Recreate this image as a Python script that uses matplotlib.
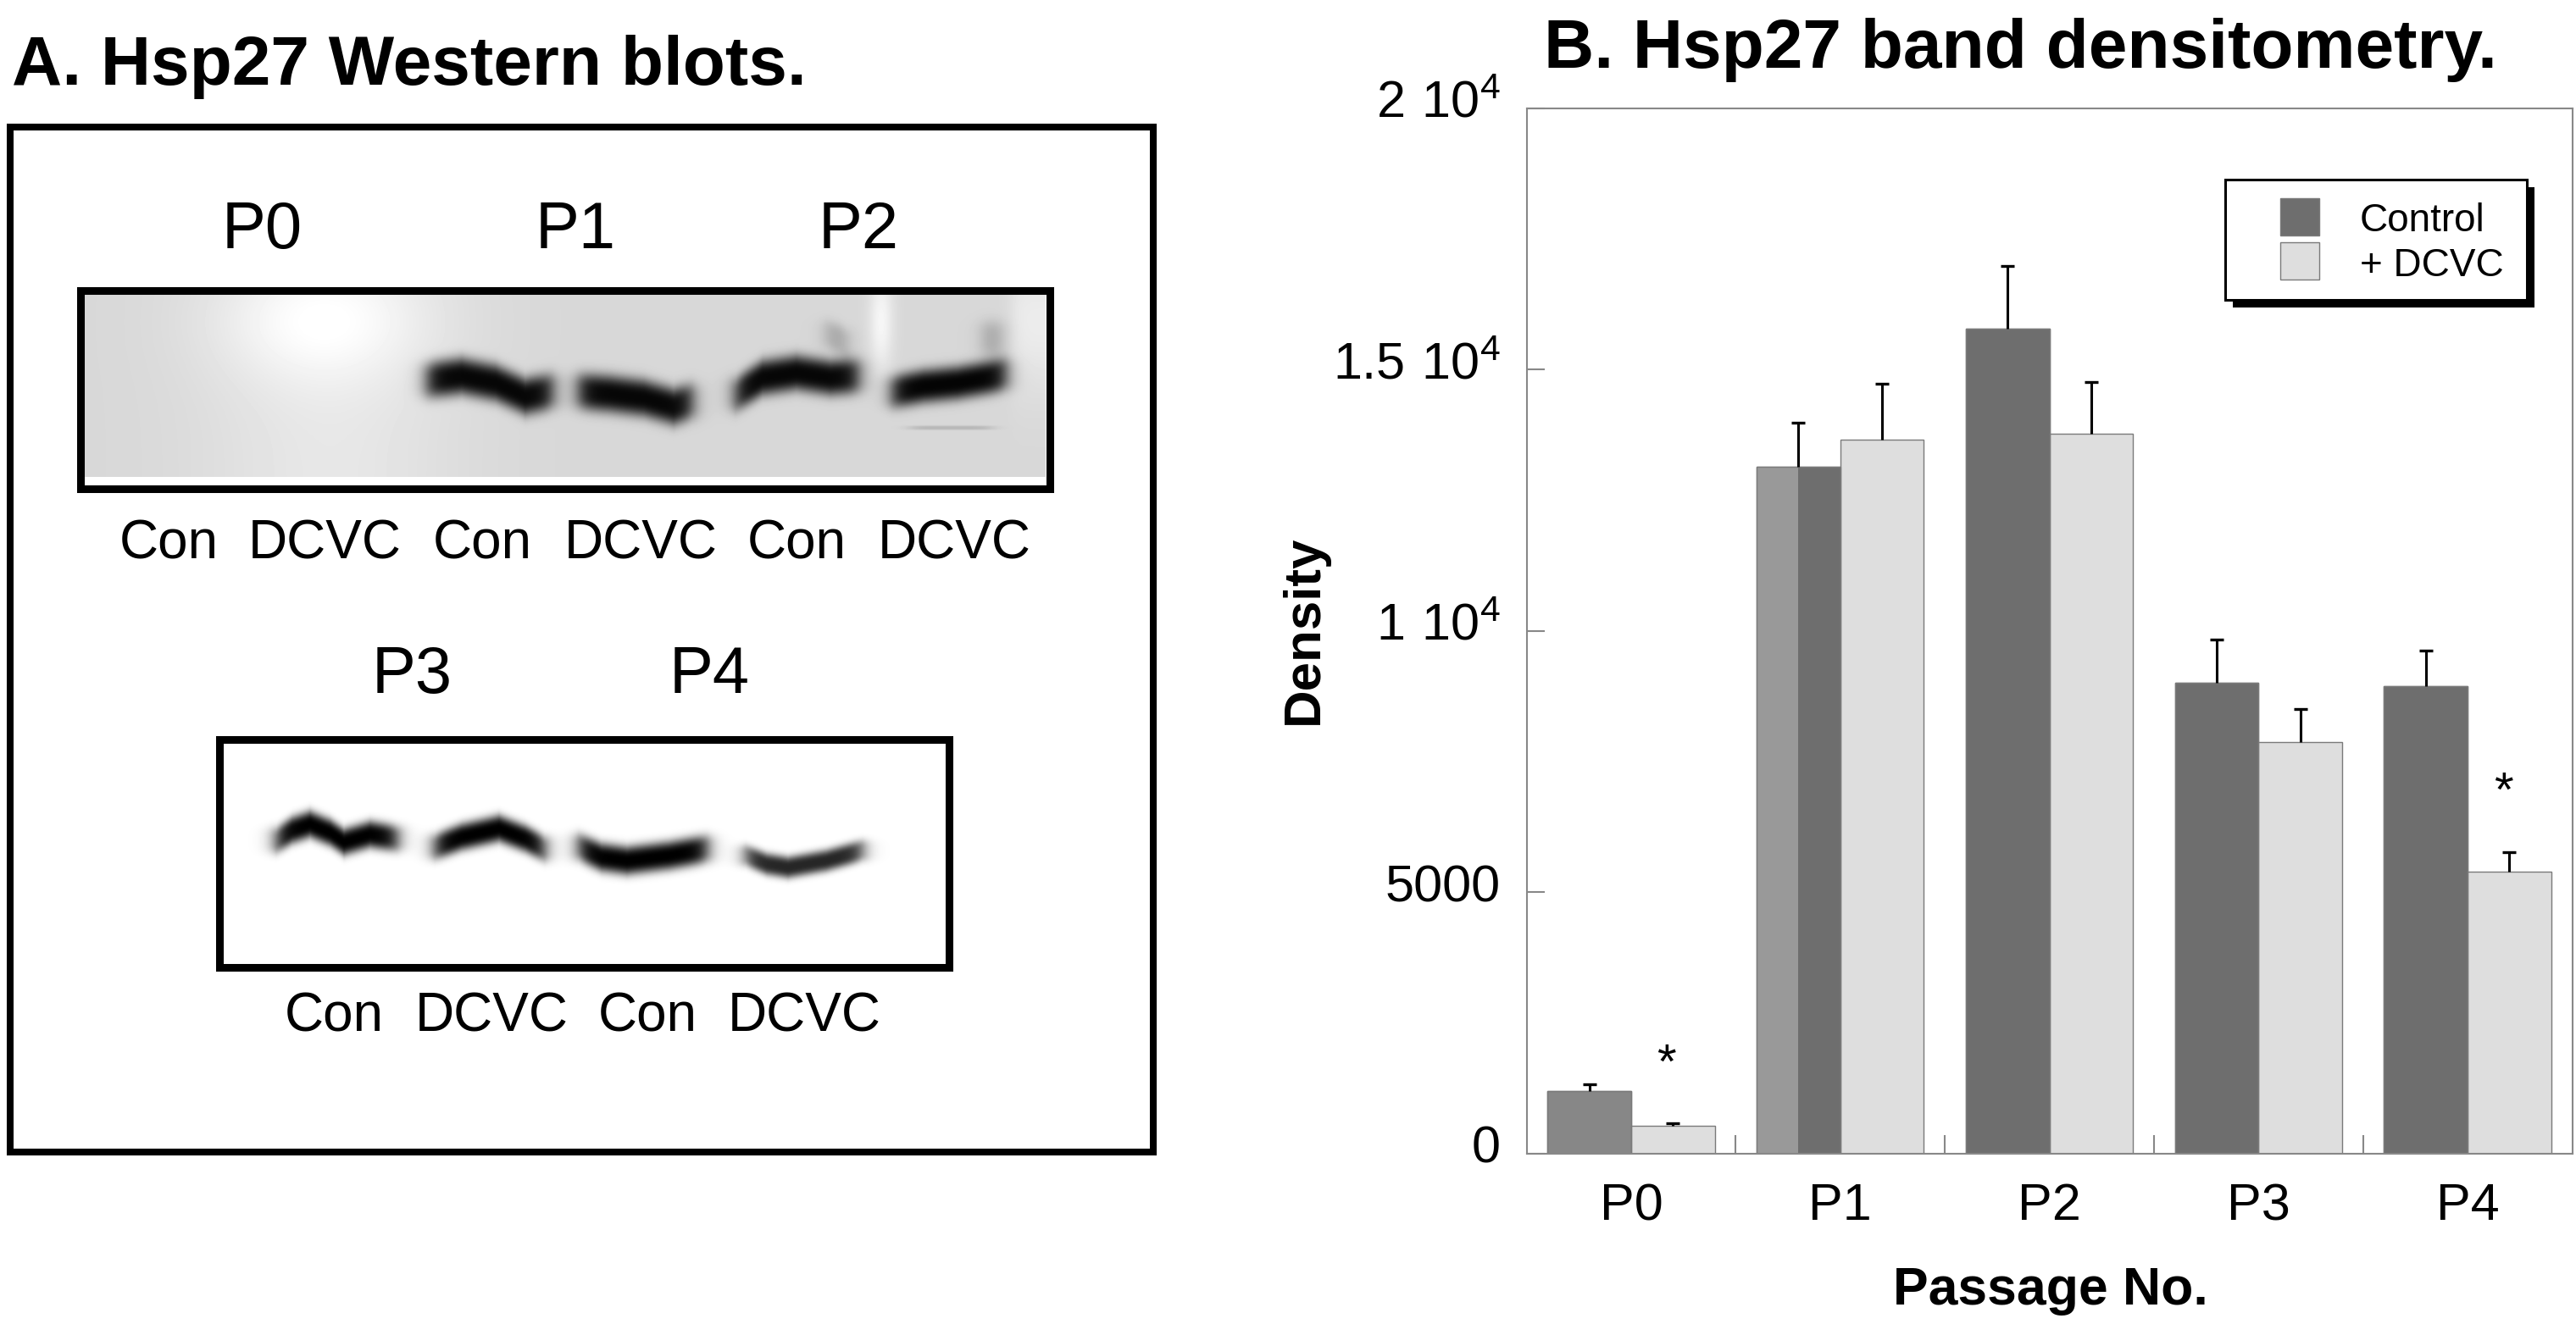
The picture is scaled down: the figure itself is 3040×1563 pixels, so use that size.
import numpy as np
import matplotlib
matplotlib.use("Agg")
import matplotlib.pyplot as plt
from matplotlib.patches import Rectangle
from matplotlib.ticker import FixedLocator, FixedFormatter
import matplotlib.transforms as mtransforms

plt.rcParams['font.family'] = ['Liberation Sans', 'DejaVu Sans']

# ---------------- data (panel B) ----------------
passages = ['P0', 'P1', 'P2', 'P3', 'P4']
control = [1190, 13140, 15780, 9010, 8950]
control_err = [135, 845, 1200, 820, 665]
dcvc = [520, 13660, 13780, 7870, 5390]
dcvc_err = [50, 1070, 985, 640, 375]
series_names = ['Control', '+ DCVC']
star_index = [0, 4]          # passages marked significant (DCVC)
star_y = [1690, 6880]
ytick_vals = [0, 5000, 10000, 15000, 20000]
ytick_labels = ['0', '5000', r'$\mathregular{1\ 10^{4}}$',
                r'$\mathregular{1.5\ 10^{4}}$', r'$\mathregular{2\ 10^{4}}$']

# ---------------- panel A labels ----------------
blot1_passages = ['P0', 'P1', 'P2']
blot2_passages = ['P3', 'P4']
lane_names = ['Con', 'DCVC']

W, H = 3040, 1563
fig = plt.figure(figsize=(W / 100, H / 100), dpi=100)

# ---------------- panel B ----------------
ax = fig.add_axes([1801.5 / W, 1 - 1361.5 / H, (3035.5 - 1801.5) / W, (1361.5 - 128) / H])
x = np.arange(len(passages))
bw = 0.4
ctrl_col = '#6e6e6e'
ctrl_cols = ['#878787'] + [ctrl_col] * (len(passages) - 1)
dcvc_col = '#dedede'
edge = '#7a7a7a'
ax.bar(x - bw / 2, control, bw, color=ctrl_cols, edgecolor=edge, linewidth=1.0, zorder=2)
# lighter left half of the P1 control bar (as in the original)
ax.bar(x[1] - 0.3, control[1], 0.2, color='#999999', linewidth=0, zorder=2.1)
ax.bar(x - bw / 2, control, bw, color='none', edgecolor=edge, linewidth=1.0, zorder=2.2)
ax.bar(x + bw / 2, dcvc, bw, color=dcvc_col, edgecolor=edge, linewidth=1.0, zorder=2)
for xs, vals, errs in [(x - bw / 2, control, control_err), (x + bw / 2, dcvc, dcvc_err)]:
    eb = ax.errorbar(xs, vals, yerr=[np.zeros(len(x)), errs], fmt='none',
                     ecolor='black', elinewidth=2.2, capsize=6, capthick=2.4, zorder=3)
    caps = eb[1]
    if len(caps) > 1:
        caps[0].set_visible(False)   # only the upper cap, as in the original
for i, sy in zip(star_index, star_y):
    ax.text(x[i] + bw / 2 - 0.03, sy, '*', ha='center', va='center', fontsize=42, zorder=4)

ax.set_xlim(-0.5, len(passages) - 0.5)
ax.set_ylim(0, 20000)
ax.xaxis.set_major_locator(FixedLocator(list(x)))
ax.xaxis.set_major_formatter(FixedFormatter(passages))
ax.xaxis.set_minor_locator(FixedLocator(list(x[:-1] + 0.5)))
ax.tick_params(axis='x', which='major', length=0, labelsize=44, pad=25)
ax.tick_params(axis='x', which='minor', direction='in', length=16, width=1.5, color='#888888')
ax.yaxis.set_major_locator(FixedLocator(ytick_vals))
ax.yaxis.set_major_formatter(FixedFormatter(ytick_labels))
ax.tick_params(axis='y', which='major', direction='in', length=15, width=1.5,
               color='#888888', labelsize=44, pad=22)
off = mtransforms.ScaledTranslation(0, 8 / 72, fig.dpi_scale_trans)
for lab in ax.get_yticklabels():
    lab.set_transform(lab.get_transform() + off)
for s in ax.spines.values():
    s.set_color('#888888')
    s.set_linewidth(1.5)

# ---------------- overlay (pixel coordinates) ----------------
ov = fig.add_axes([0, 0, 1, 1], zorder=5)
ov.set_xlim(0, W)
ov.set_ylim(H, 0)
ov.axis('off')

# axis labels and titles
ov.text(1555, 743, 'Density', rotation=90, ha='center', va='baseline',
        fontsize=44.5, fontweight='bold', rotation_mode='anchor')
ov.text(2420, 1540, 'Passage No.', ha='center', va='baseline', fontsize=45, fontweight='bold')
ov.text(1822, 80, 'B. Hsp27 band densitometry.', ha='left', va='baseline',
        fontsize=59, fontweight='bold')
ov.text(14, 100, 'A. Hsp27 Western blots.', ha='left', va='baseline',
        fontsize=59, fontweight='bold')

# legend with drop shadow
ov.add_patch(Rectangle((2635, 221), 356, 142, facecolor='black', edgecolor='none', zorder=1))
ov.add_patch(Rectangle((2626, 212), 356, 142, facecolor='white', edgecolor='black',
                       linewidth=2.2, zorder=2))
for (yy, col, name, base) in [(234, ctrl_col, series_names[0], 273),
                              (286, dcvc_col, series_names[1], 326.5)]:
    ov.add_patch(Rectangle((2691, yy), 46, 44, facecolor=col, edgecolor=edge,
                           linewidth=1.0, zorder=3))
    ov.text(2785, base, name, ha='left', va='baseline', fontsize=33, zorder=3)

# ---------------- panel A: blots ----------------
def soft_box(X, x0, x1, s=6.0):
    return 1 / (1 + np.exp(-(X - x0) / s)) / (1 + np.exp((X - x1) / s))

def band(X, Y, px, py, half, strength, x0, x1):
    yc = np.interp(X, px, py)
    return strength * np.exp(-np.abs((Y - yc) / half) ** 3) * soft_box(X, x0, x1)

# top blot (P0-P2)
tx0, tx1, ty0, ty1 = 100, 1234, 347, 563
X, Y = np.meshgrid(np.arange(tx0, tx1) + 0.5, np.arange(ty0, ty1) + 0.5)
bg = 0.845 * np.ones_like(X)
bg += 0.10 * np.exp(-((X - 380) / 120) ** 2 - ((Y - 380) / 70) ** 2)
bg += 0.06 * np.exp(-((X - 390) / 150) ** 2)
bg += 0.12 * np.exp(-((X - 1040) / 14) ** 2 - ((Y - 380) / 60) ** 2)
bg += 0.08 * soft_box(X, 1195, 1300, 5) * np.exp(-((Y - 380) / 80) ** 2)
bg = np.clip(bg, 0, 1)
top_bands = [
    ([504, 545, 585, 620, 652], [449, 444, 452, 468, 462], 22, 0.97, 504, 652),
    ([683, 720, 760, 795, 817], [462, 465, 470, 480, 474], 22, 0.97, 683, 817),
    ([868, 900, 940, 980, 1013], [466, 446, 440, 446, 444], 21, 0.97, 868, 1013),
    ([1053, 1090, 1130, 1165, 1187], [463, 456, 452, 446, 442], 20, 0.98, 1053, 1187),
    ([975, 990, 1000], [395, 400, 405], 18, 0.25, 975, 1000),
    ([1160, 1172, 1182], [400, 400, 400], 22, 0.25, 1160, 1182),
    ([1075, 1130, 1170], [505, 505, 505], 2.5, 0.15, 1075, 1170),
]
dark = np.zeros_like(X)
for px, py, half, st, a0, a1 in top_bands:
    dark += band(X, Y, px, py, half, st, a0, a1)
img1 = bg * (1 - np.clip(dark, 0, 1))
ov.imshow(img1, cmap='gray', vmin=0, vmax=1, extent=[tx0, tx1, ty1, ty0],
          origin='upper', interpolation='bilinear', aspect='auto', zorder=1)

# bottom blot (P3-P4)
bx0, bx1, by0, by1 = 262, 1117, 876, 1139
X2, Y2 = np.meshgrid(np.arange(bx0, bx1) + 0.5, np.arange(by0, by1) + 0.5)
bot_bands = [
    ([326, 345, 366, 390, 406, 437, 469], [992, 980, 973, 983, 994, 985, 990], 16, 1.0, 326, 469),
    ([513, 545, 589, 620, 643], [1000, 988, 978, 990, 1002], 16, 1.0, 513, 643),
    ([683, 710, 740, 790, 835], [1000, 1012, 1016, 1010, 1002], 17, 1.0, 683, 835),
    ([880, 905, 930, 975, 1018], [1010, 1020, 1024, 1016, 1004], 13, 0.85, 880, 1018),
]
dark2 = np.zeros_like(X2)
for px, py, half, st, a0, a1 in bot_bands:
    dark2 += band(X2, Y2, px, py, half, st, a0, a1)
img2 = 1 - np.clip(dark2, 0, 1)
ov.imshow(img2, cmap='gray', vmin=0, vmax=1, extent=[bx0, bx1, by1, by0],
          origin='upper', interpolation='bilinear', aspect='auto', zorder=1)
ov.set_xlim(0, W)
ov.set_ylim(H, 0)

# frames
ov.add_patch(Rectangle((12, 150), 1349, 1210, facecolor='none', edgecolor='black', linewidth=5.8, zorder=2))
ov.add_patch(Rectangle((94.5, 343), 1144.5, 234, facecolor='none', edgecolor='black', linewidth=6.5, zorder=2))
ov.add_patch(Rectangle((259, 872.5), 861, 269.5, facecolor='none', edgecolor='black', linewidth=6.5, zorder=2))

# lane / passage labels
for name, cx in zip(blot1_passages, [309, 679, 1013]):
    ov.text(cx, 293, name, ha='center', va='baseline', fontsize=56)
for name, cx in zip(blot2_passages, [486, 837]):
    ov.text(cx, 818, name, ha='center', va='baseline', fontsize=56)
for i, cx in enumerate([199, 383, 569, 756, 940, 1126]):
    ov.text(cx, 660, lane_names[i % 2], ha='center', va='baseline', fontsize=46)
for i, cx in enumerate([394, 580, 764, 949]):
    ov.text(cx, 1217, lane_names[i % 2], ha='center', va='baseline', fontsize=46)

fig.savefig('out.png', dpi=100, facecolor='white')
